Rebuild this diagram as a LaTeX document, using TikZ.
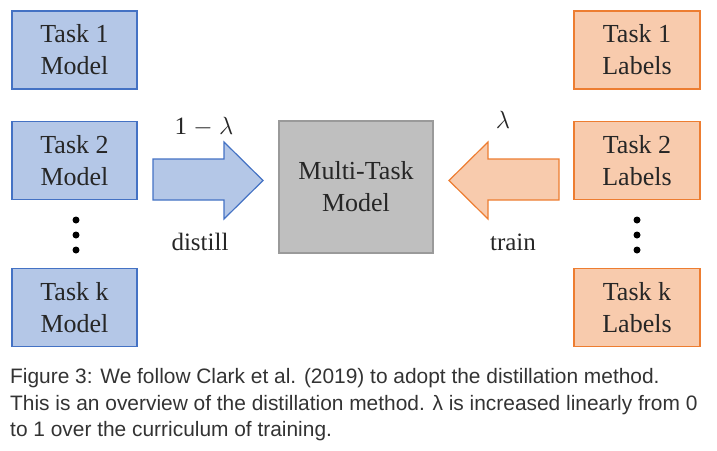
\documentclass[tikz,border=0pt]{standalone}
\usepackage{fontspec}
\setmainfont{Liberation Serif}
\newfontfamily\capfont{Liberation Sans}
\definecolor{bfill}{HTML}{B4C7E7}
\definecolor{bdraw}{HTML}{4472C4}
\definecolor{ofill}{HTML}{F8CBAD}
\definecolor{odraw}{HTML}{ED7D31}
\definecolor{gfill}{HTML}{BFBFBF}
\definecolor{gdraw}{HTML}{9A9A9A}
\definecolor{captxt}{HTML}{333333}
\tikzset{
  txt/.style={font=\fontsize{26}{32}\selectfont, align=center, text=black!85},
  bbox/.style={txt, draw=bdraw, fill=bfill, line width=1.2pt, minimum width=125pt, minimum height=78pt, inner sep=0pt},
  obox/.style={txt, draw=odraw, fill=ofill, line width=1.2pt, minimum width=126pt, minimum height=78pt, inner sep=0pt},
  gbox/.style={txt, draw=gdraw, fill=gfill, line width=1.2pt, minimum width=154pt, minimum height=132pt, inner sep=0pt},
  dot/.style={circle, fill=black, inner sep=0pt, minimum size=7pt},
  lab/.style={font=\fontsize{25}{30}\selectfont, text=black!85},
  captext/.style={font=\capfont\fontsize{20.9}{24}\selectfont, text=captxt, anchor=base west, inner sep=0pt},
}
\begin{document}
\begin{tikzpicture}[x=1pt,y=-1pt]
\useasboundingbox (0,0) rectangle (717,450);
% left boxes
\node[bbox] (m1) at (74.5,50) {Task 1\\Model};
\node[bbox] (m2) at (74.5,160.5) {Task 2\\Model};
\node[bbox] (mk) at (74.5,307.5) {Task k\\Model};
\node[dot] (ld1) at (76,220) {};
\node[dot] (ld2) at (76,235) {};
\node[dot] (ld3) at (76,250) {};
% right boxes
\node[obox] (l1) at (637,50) {Task 1\\Labels};
\node[obox] (l2) at (637,160.5) {Task 2\\Labels};
\node[obox] (lk) at (637,307.5) {Task k\\Labels};
\node[dot] (rd1) at (637,220) {};
\node[dot] (rd2) at (637,235) {};
\node[dot] (rd3) at (637,250) {};
% center
\node[gbox] (mt) at (356,187) {Multi-Task\\Model};
% blue arrow
\draw[draw=bdraw, fill=bfill, line width=1.2pt, line join=miter]
  (153,159) -- (224,159) -- (224,142) -- (263,180.5) -- (224,219) -- (224,200) -- (153,200) -- cycle;
% orange arrow
\draw[draw=odraw, fill=ofill, line width=1.2pt, line join=miter]
  (559,159) -- (488,159) -- (488,142) -- (449,180.5) -- (488,219) -- (488,200) -- (559,200) -- cycle;
% labels
\node[lab] (oml) at (204,127) {1 $-$ $\lambda$};
\node[lab] (dis) at (200,242) {distill};
\node[lab] (lam) at (503,120) {$\lambda$};
\node[lab] (trn) at (513,242) {train};
% caption
\node[captext] (c1) at (10,383.5) {Figure 3: We follow Clark et al. (2019) to adopt the distillation method.};
\node[captext] (c2) at (10,410) {This is an overview of the distillation method. λ is increased linearly from 0};
\node[captext] (c3) at (10,436.5) {to 1 over the curriculum of training.};
\end{tikzpicture}
\end{document}
